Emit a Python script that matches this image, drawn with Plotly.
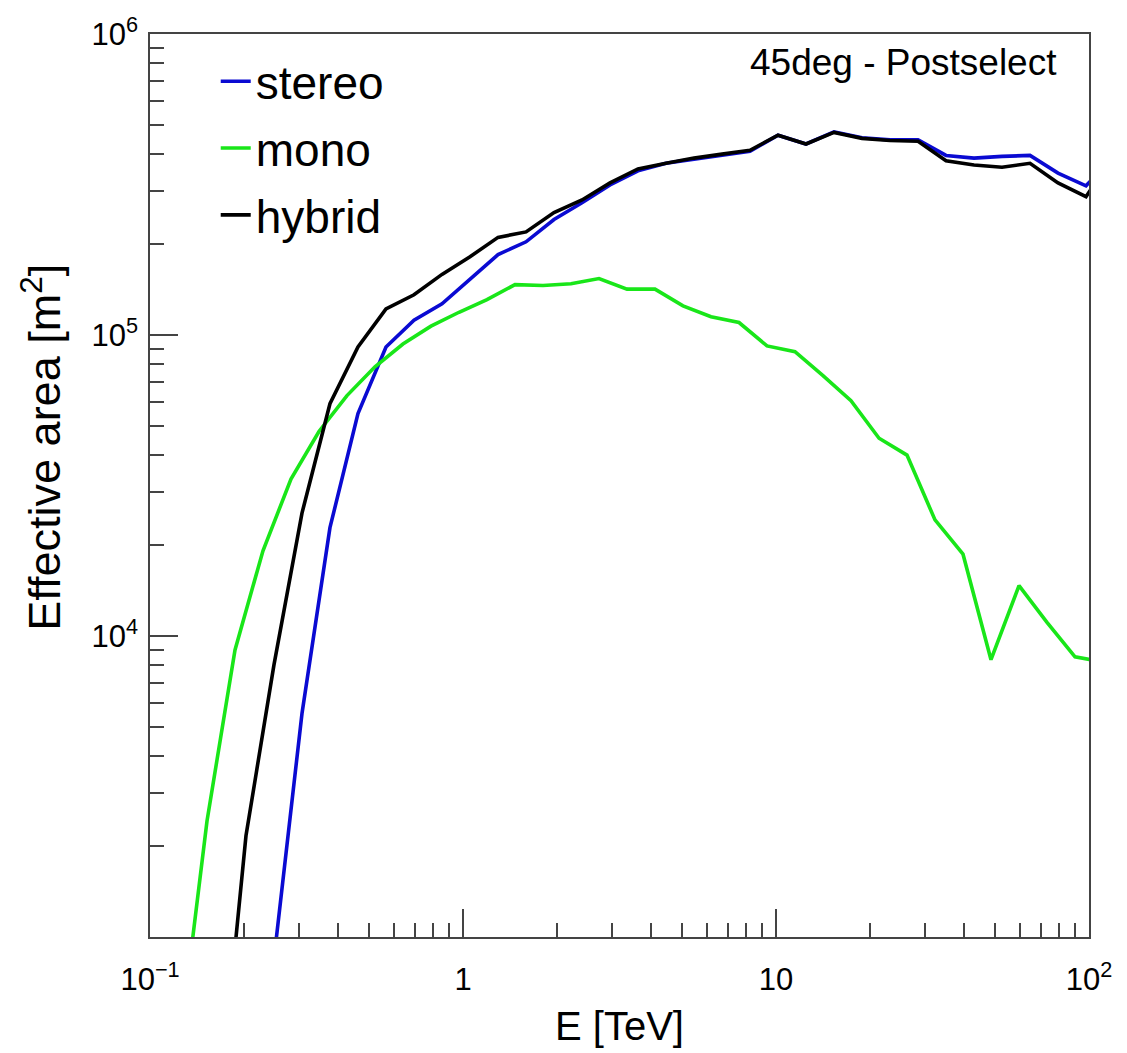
import plotly.graph_objects as go

# Energies (TeV) of the bin points
E_upper = [0.1650, 0.2026, 0.2489, 0.3059, 0.3758, 0.4618, 0.5675, 0.6973, 0.8568,
           1.053, 1.294, 1.590, 1.953, 2.400, 2.949, 3.623, 4.453, 5.470, 6.723, 8.259,
           10.15, 12.47, 15.32, 18.83, 23.13, 28.43, 34.93, 42.92, 52.72, 64.79, 79.62,
           97.81, 120.2]
E_stereo = E_upper[2:]
E_mono = [0.1238, 0.1521, 0.1869, 0.2296, 0.2821, 0.3466, 0.4259, 0.5233, 0.6429, 0.7901,
          0.9710, 1.193, 1.466, 1.801, 2.213, 2.720, 3.342, 4.106, 5.045, 6.199,
          7.617, 9.359, 11.50, 14.13, 17.36, 21.34, 26.21, 32.21, 39.58, 48.63,
          59.76, 73.42, 90.22, 110.8]

# Effective areas (m^2)
stereo = [845, 5530, 22900, 54800, 91200, 112000, 127000, 153000, 185000, 204000,
          242000, 275000, 315000, 351000, 372000, 384000, 396000, 408000, 461000, 431000,
          473000, 452000, 445000, 445000, 395000, 387000, 392000, 395000, 345000, 313000,
          395000]
mono = [421, 2430, 8990, 19200, 33200, 47800, 62900, 78400, 93300, 107000,
        119000, 131000, 147000, 146000, 148000, 154000, 142000, 142000, 125000, 115000,
        110000, 92000, 88000, 73300, 60500, 45400, 39900, 24300, 18700, 8340,
        14700, 11100, 8530, 8200]
hybrid = [247, 2170, 8020, 25600, 59100, 91200, 122000, 136000, 159000, 182000,
          211000, 220000, 255000, 281000, 320000, 356000, 372000, 387000, 399000, 411000,
          461000, 431000, 471000, 450000, 443000, 440000, 379000, 367000, 361000, 372000,
          320000, 288000, 395000]

x_tickvals = [0.1, 1, 10, 100]
x_ticktext = ["10<sup>\u22121</sup>", "1", "10", "10<sup>2</sup>"]
y_tickvals = [1e4, 1e5, 1e6]
y_ticktext = ["10<sup>4</sup>", "10<sup>5</sup>", "10<sup>6</sup>"]
x_minor = [m * 10 ** d for d in (-1, 0, 1) for m in range(2, 10)]
y_minor = [m * 10 ** d for d in (3, 4, 5) for m in range(2, 10)]

FONT = "Liberation Sans, Arial, Helvetica, sans-serif"
AXC = "#444444"
LW = 3.6

fig = go.Figure()
fig.add_trace(go.Scatter(x=E_stereo, y=stereo, mode="lines", name="stereo",
                         legendgroup="a", line=dict(color="#0a0ad2", width=LW)))
fig.add_trace(go.Scatter(x=E_mono, y=mono, mode="lines", name="mono",
                         legendgroup="b", line=dict(color="#19e619", width=LW)))
fig.add_trace(go.Scatter(x=E_upper, y=hybrid, mode="lines", name="hybrid",
                         legendgroup="c", line=dict(color="#000000", width=LW)))

fig.update_layout(
    width=1127, height=1053,
    margin=dict(l=150, r=38, t=28, b=116),
    paper_bgcolor="white", plot_bgcolor="white",
    font=dict(family=FONT, color="black"),
    showlegend=True,
    legend=dict(x=0.07, y=0.988, xanchor="left", yanchor="top",
                font=dict(size=46, family=FONT), bgcolor="rgba(0,0,0,0)",
                tracegroupgap=4, traceorder="grouped", itemwidth=30),
    xaxis=dict(type="log", range=[-1, 2], showgrid=False, zeroline=False,
               showline=True, linecolor=AXC, linewidth=1.5, mirror=True,
               ticks="inside", ticklen=28, tickwidth=1.5, tickcolor=AXC,
               tickvals=x_tickvals, ticktext=x_ticktext,
               tickfont=dict(size=31, family=FONT), ticklabelstandoff=14,
               minor=dict(tickvals=x_minor, ticks="inside", ticklen=14,
                          tickwidth=1.5, tickcolor=AXC, showgrid=False)),
    yaxis=dict(type="log", range=[3, 6], showgrid=False, zeroline=False,
               showline=True, linecolor=AXC, linewidth=1.5, mirror=True,
               ticks="inside", ticklen=28, tickwidth=1.5, tickcolor=AXC,
               tickvals=y_tickvals, ticktext=y_ticktext,
               tickfont=dict(size=31, family=FONT), ticklabelstandoff=4,
               minor=dict(tickvals=y_minor, ticks="inside", ticklen=14,
                          tickwidth=1.5, tickcolor=AXC, showgrid=False)),
    annotations=[
        dict(text="45deg - Postselect", xref="paper", yref="paper",
             x=0.968, y=0.968, xanchor="right", yanchor="middle",
             showarrow=False, font=dict(size=37, family=FONT)),
        dict(text="E [TeV]", xref="paper", yref="paper",
             x=0.5, y=-0.099, xanchor="center", yanchor="middle",
             showarrow=False, font=dict(size=40, family=FONT)),
        dict(text="Effective area [m<sup>2</sup>]", xref="paper", yref="paper",
             x=-0.116, y=0.542, xanchor="center", yanchor="middle", textangle=-90,
             showarrow=False, font=dict(size=45, family=FONT)),
    ],
)

fig.write_html("out.html")
